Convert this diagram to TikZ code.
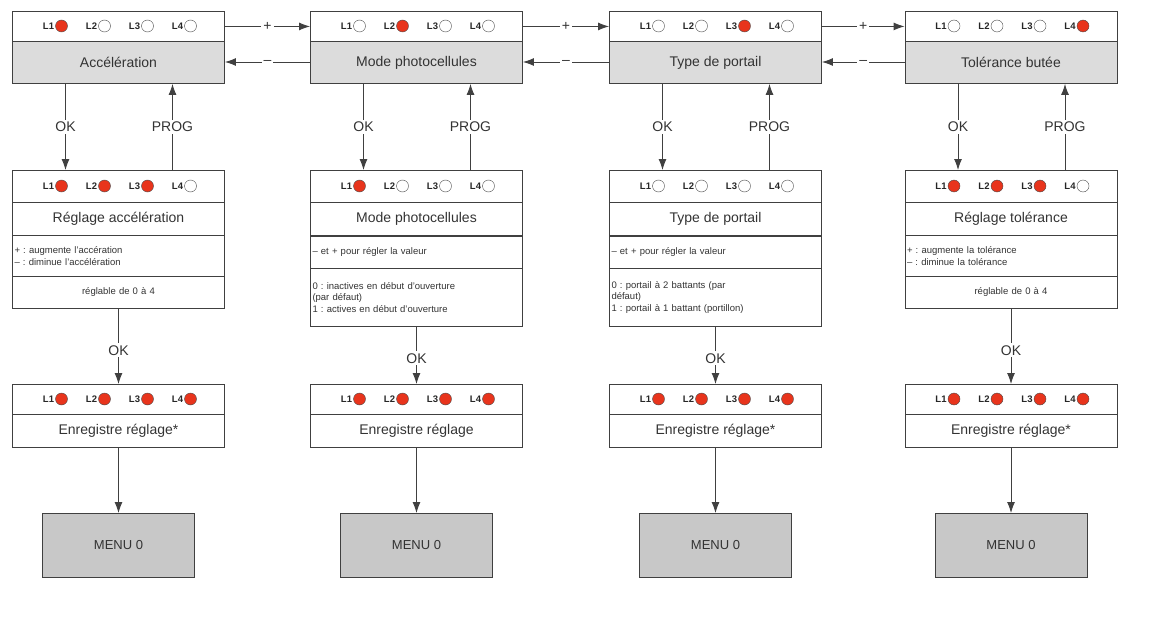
\documentclass[tikz,border=0pt]{standalone}
\usepackage{fontspec}
\setmainfont{Liberation Sans}
\usetikzlibrary{arrows.meta}
\definecolor{tgray}{HTML}{DCDCDC}
\definecolor{mgray}{HTML}{C8C8C8}
\definecolor{led}{HTML}{E8341C}
\tikzset{
  box/.style={draw=black!75, line width=0.9pt, minimum width=212pt, anchor=north, inner sep=0pt, font=\fontsize{14}{16}\selectfont, text=black!80},
  note/.style={draw=black!75, line width=0.9pt, minimum width=212pt, text width=208pt, anchor=north, inner sep=2pt, align=left, font=\fontsize{9.5}{11.5}\selectfont, text=black!80},
  menu/.style={draw=black!75, line width=0.9pt, fill=mgray, minimum width=152pt, minimum height=64pt, anchor=north, font=\fontsize{13}{15}\selectfont, text=black!80},
  conn/.style={line width=0.9pt, draw=black!75},
  arr/.style={conn, -{Latex[length=11pt,width=8pt]}},
  lbl/.style={fill=white, inner sep=2pt, font=\fontsize{14}{16}\selectfont, text=black!80},
  ledlab/.style={font=\bfseries\fontsize{9.5}{11}\selectfont, inner sep=0pt, text=black!85},
  ledon/.style={circle, draw=black!70, fill=led, minimum size=12pt, inner sep=0pt},
  ledoff/.style={circle, draw=black!70, fill=white, minimum size=12pt, inner sep=0pt},
}
\newcommand\ledrow[3]{%
  \edef\myledlist{#3}%
  \foreach \s [count=\i] in \myledlist {
    \pgfmathsetmacro\lx{#1-70+43*(\i-1)}
    \node[ledlab] at (\lx,#2) {L\i};
    \ifnum\s=1 \node[ledon] at (\lx+13,#2) {};\else \node[ledoff] at (\lx+13,#2) {};\fi
  }}
\begin{document}
\begin{tikzpicture}[x=1pt,y=-1pt]
\useasboundingbox (0,0) rectangle (1151,623);
\foreach \n/\cx/\pa/\ti/\pb/\tb/\pc in {
  a/118.5/{1,0,0,0}/Accélération/{1,1,1,0}/Réglage accélération/Enregistre réglage*,
  b/416.5/{0,1,0,0}/Mode photocellules/{1,0,0,0}/Mode photocellules/Enregistre réglage,
  c/715.5/{0,0,1,0}/Type de portail/{0,0,0,0}/Type de portail/Enregistre réglage*,
  d/1011/{0,0,0,1}/Tolérance butée/{1,1,1,0}/Réglage tolérance/Enregistre réglage*}{
  \node[box, minimum height=30pt] (\n l1) at (\cx,11) {};
  \node[box, minimum height=42pt, fill=tgray] (\n t1) at (\cx,41) {\ti};
  \ledrow{\cx}{26}{\pa}
  \node[box, minimum height=32pt] (\n l2) at (\cx,170) {};
  \node[box, minimum height=33pt] (\n t2) at (\cx,202) {\tb};
  \ledrow{\cx}{186}{\pb}
  \node[box, minimum height=30pt] (\n l3) at (\cx,384) {};
  \node[box, minimum height=33pt] (\n t3) at (\cx,414) {\pc};
  \ledrow{\cx}{399}{1,1,1,1}
  \node[menu] (\n m) at (\cx,513) {MENU 0};
  \draw[arr] (\n t3.south) -- (\n m.north);
  \draw[arr] ([xshift=-53pt]\n t1.south) -- node[lbl]{OK} ([xshift=-53pt]\n l2.north);
  \draw[arr] ([xshift=54pt]\n l2.north) -- node[lbl]{PROG} ([xshift=54pt]\n t1.south);
}
\node[note, minimum height=41pt] (an) at (118.5,235) {+~:~augmente l'accération\\–~:~diminue l'accélération};
\node[note, minimum height=32pt, align=center] (ar) at (118.5,276) {réglable de 0 à 4};
\node[note, minimum height=32pt] (bn) at (416.5,236) {–~et~+~pour régler la valeur};
\node[note, minimum height=58pt] (br) at (416.5,268) {0~:~inactives en début d'ouverture\\(par défaut)\\1~:~actives en début d'ouverture};
\node[note, minimum height=32pt] (cn) at (715.5,236) {–~et~+~pour régler la valeur};
\node[note, minimum height=58pt] (cr) at (715.5,268) {0~:~portail à 2 battants (par\\défaut)\\1~:~portail à 1 battant (portillon)};
\node[note, minimum height=41pt] (dn) at (1011,235) {+~:~augmente la tolérance\\–~:~diminue la tolérance};
\node[note, minimum height=32pt, align=center] (dr) at (1011,276) {réglable de 0 à 4};
\foreach \n in {a,b,c,d}{
  \draw[arr] (\n r.south) -- node[lbl, pos=0.55]{OK} (\n l3.north);
}
\foreach \p/\q in {a/b,b/c,c/d}{
  \draw[arr] (\p l1.east) -- node[lbl, pos=0.5]{+} (\q l1.west);
  \draw[arr] (\q t1.west |- 0,62) -- node[lbl, pos=0.5]{–} (\p t1.east |- 0,62);
}
\end{tikzpicture}
\end{document}
